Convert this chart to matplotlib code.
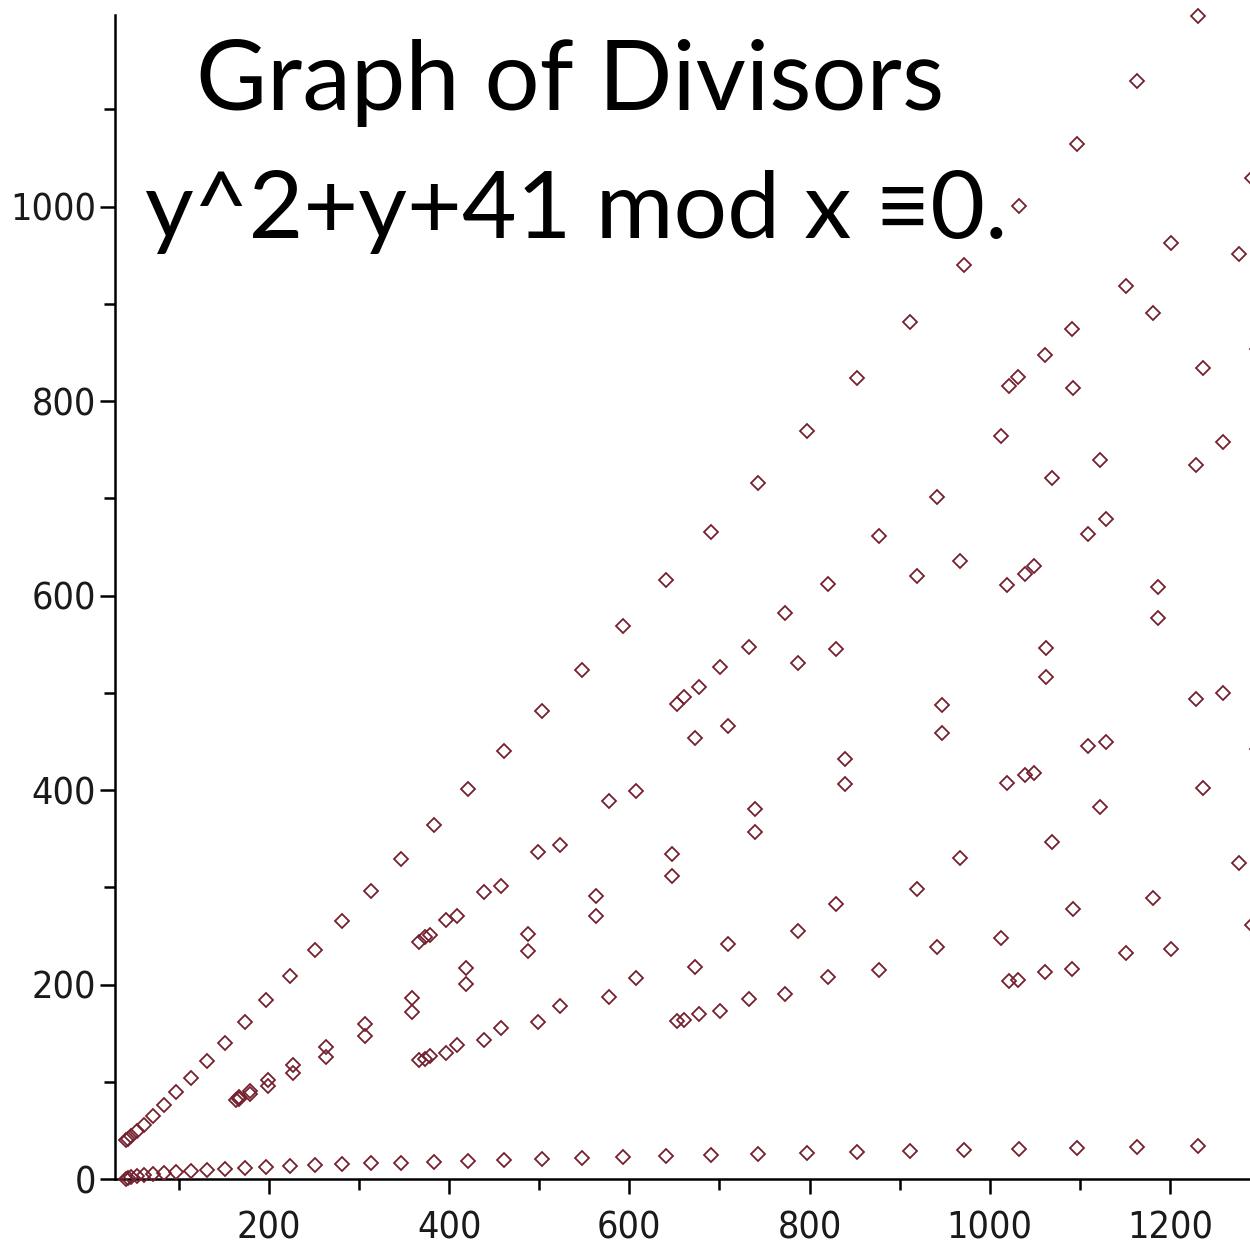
# -*- coding: utf-8 -*-
import matplotlib
matplotlib.use('Agg')
import matplotlib.pyplot as plt

# divisors x and the y values (0 <= y < x) with y^2+y+41 divisible by x
# bottom row and top diagonal
row1_x = [41, 43, 47, 53, 61, 71, 83, 97, 113, 131, 151, 173, 197, 223, 251, 281, 313, 347,
          383, 421, 461, 503, 547, 593, 641, 691, 743, 797, 853, 911, 971, 1033, 1097, 1163,
          1231, 1301]
row1_lo = [0, 1, 2, 3, 4, 5, 6, 7, 8, 9, 10, 11, 12, 13, 14, 15, 16, 17, 18, 19, 20, 21, 22,
           23, 24, 25, 26, 27, 28, 29, 30, 31, 32, 33, 34, 35]
row1_hi = [40, 41, 44, 49, 56, 65, 76, 89, 104, 121, 140, 161, 184, 209, 236, 265, 296, 329,
           364, 401, 440, 481, 524, 569, 616, 665, 716, 769, 824, 881, 940, 1001, 1064, 1129,
           1196, 1265]

# the single point at 163
mid_x = [163]
mid_y = [81]

# points near y = x/2
row2_x = [167, 179, 199, 227, 263, 307, 359, 419, 487, 563, 647, 739, 839, 947, 1063, 1187]
row2_lo = [82, 87, 96, 109, 126, 147, 172, 201, 234, 271, 312, 357, 406, 459, 516, 577]
row2_hi = [84, 91, 102, 117, 136, 159, 186, 217, 252, 291, 334, 381, 432, 487, 546, 609]

# points near y = x/3 and 2x/3
row3_x = [367, 373, 379, 397, 409, 439, 457, 499, 523, 577, 607, 673, 709, 787, 829, 919,
          967, 1069, 1123, 1237, 1297]
row3_lo = [122, 123, 127, 130, 138, 143, 155, 162, 178, 187, 207, 218, 242, 255, 283, 298,
           330, 347, 383, 402, 442]
row3_hi = [244, 249, 251, 266, 270, 295, 301, 336, 344, 389, 399, 454, 466, 531, 545, 620,
           636, 721, 739, 834, 854]

# points near y = x/4 and 3x/4
row4_x = [653, 661, 677, 701, 733, 773, 821, 877, 941, 1013, 1093, 1181, 1277]
row4_lo = [163, 164, 170, 173, 185, 190, 208, 215, 239, 248, 278, 289, 325]
row4_hi = [489, 496, 506, 527, 547, 582, 612, 661, 701, 764, 814, 891, 951]

# points near y = k*x/5
row5_x = [1019, 1021, 1031, 1039, 1049, 1061, 1091, 1109, 1129, 1151, 1201, 1229, 1259, 1291]
row5_lo = [407, 204, 205, 416, 418, 213, 216, 445, 449, 232, 237, 494, 500, 261]
row5_hi = [611, 816, 825, 622, 630, 847, 874, 663, 679, 918, 963, 734, 758, 1029]

xs = row1_x * 2 + mid_x + row2_x * 2 + row3_x * 2 + row4_x * 2 + row5_x * 2
ys = (row1_lo + row1_hi + mid_y + row2_lo + row2_hi + row3_lo + row3_hi
      + row4_lo + row4_hi + row5_lo + row5_hi)

fig = plt.figure(figsize=(12.5, 12.47), dpi=100)
ax = fig.add_axes([0.092, 0.0545, 0.908, 0.9334])

ax.plot(xs, ys, ls='none', marker='D', ms=6.8, mfc='none', mec='#74202f', mew=1.3,
        clip_on=False, zorder=3)

ax.set_xlim(29, 1289)
ax.set_ylim(0, 1197)

for s in ['top', 'right']:
    ax.spines[s].set_visible(False)
for s in ['left', 'bottom']:
    ax.spines[s].set_linewidth(1.8)
    ax.spines[s].set_color('black')

ax.set_xticks([200, 400, 600, 800, 1000, 1200])
ax.set_xticks([100, 300, 500, 700, 900, 1100], minor=True)
ax.set_yticks([0, 200, 400, 600, 800, 1000])
ax.set_yticks([100, 300, 500, 700, 900, 1100], minor=True)

ax.tick_params(which='major', length=10.8, width=1.8, colors='black', labelcolor='#1a1a1a')
ax.tick_params(which='minor', length=8, width=1.8, colors='black')
ax.tick_params(axis='x', which='major', pad=11.5, labelsize=27)
ax.tick_params(axis='y', which='major', pad=3, labelsize=27)
for lab in ax.get_xticklabels() + ax.get_yticklabels():
    lab.set_family('DejaVu Sans')
    lab.set_stretch('condensed')

title_font = ['Lato', 'DejaVu Sans']
fig.text(0.456, 0.9118, 'Graph of Divisors', ha='center', va='baseline',
         fontsize=70, family=title_font, color='black')
fig.text(0.461, 0.8091, 'y^2+y+41 mod x \u22610.', ha='center', va='baseline',
         fontsize=68, family=title_font, color='black')

fig.savefig('out.png', dpi=100)
